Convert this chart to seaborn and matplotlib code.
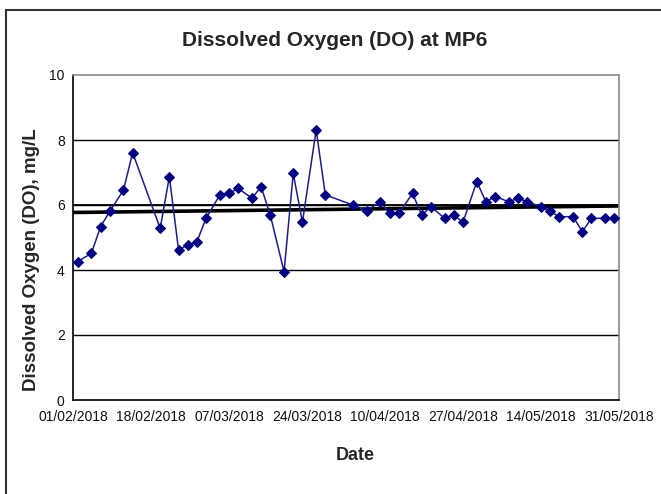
import matplotlib
matplotlib.use("Agg")
import matplotlib.pyplot as plt
import matplotlib.dates as mdates
from matplotlib.patches import Rectangle
import pandas as pd
import seaborn as sns

# Sampling dates and dissolved oxygen readings (mg/L) at MP6
dates = [
    "2018-02-02", "2018-02-05", "2018-02-07", "2018-02-09", "2018-02-12", "2018-02-14",
    "2018-02-20", "2018-02-22", "2018-02-24", "2018-02-26", "2018-02-28", "2018-03-02",
    "2018-03-05", "2018-03-07", "2018-03-09", "2018-03-12", "2018-03-14", "2018-03-16",
    "2018-03-19", "2018-03-21", "2018-03-23", "2018-03-26", "2018-03-28", "2018-04-03",
    "2018-04-06", "2018-04-09", "2018-04-11", "2018-04-13", "2018-04-16", "2018-04-18",
    "2018-04-20", "2018-04-23", "2018-04-25", "2018-04-27", "2018-04-30", "2018-05-02",
    "2018-05-04", "2018-05-07", "2018-05-09", "2018-05-11", "2018-05-14", "2018-05-16",
    "2018-05-18", "2018-05-21", "2018-05-23", "2018-05-25", "2018-05-28", "2018-05-30",
]
do_values = [
    4.26, 4.51, 5.33, 5.80, 6.46, 7.61,
    5.28, 6.87, 4.62, 4.77, 4.87, 5.59,
    6.31, 6.36, 6.51, 6.21, 6.56, 5.69,
    3.95, 6.97, 5.47, 8.31, 6.31, 6.00,
    5.83, 6.10, 5.74, 5.74, 6.36, 5.69,
    5.95, 5.59, 5.69, 5.47, 6.72, 6.10,
    6.26, 6.10, 6.21, 6.10, 5.95, 5.80,
    5.64, 5.64, 5.18, 5.59, 5.59, 5.59,
]

# Linear trend across the period
trend_dates = ["2018-02-01", "2018-05-31"]
trend_values = [5.77, 5.97]

# Guideline level
guideline = 6.0

x_start, x_end = "2018-02-01", "2018-05-31"
y_ticks = [0, 2, 4, 6, 8, 10]

df = pd.DataFrame({"Date": pd.to_datetime(dates), "DO": do_values})
trend = pd.DataFrame({"Date": pd.to_datetime(trend_dates), "DO": trend_values})

sns.set_style("white")
plt.rcParams["font.family"] = ["Liberation Sans", "DejaVu Sans"]

fig = plt.figure(figsize=(6.61, 4.94), dpi=100)
ax = fig.add_axes([73 / 661, 1 - 400 / 494, (619 - 73) / 661, (400 - 75) / 494])

# Outer chart frame
fig.patches.append(Rectangle((6 / 661, -0.1), 1.2, 1 - 10 / 494 + 0.1,
                             transform=fig.transFigure, fill=False,
                             edgecolor="#333333", linewidth=1.5, zorder=0))

# Horizontal gridlines
for v in y_ticks[1:-1]:
    ax.axhline(v, color="black", linewidth=1.0, zorder=1)
ax.axhline(guideline, color="black", linewidth=1.3, zorder=1)

sns.lineplot(data=trend, x="Date", y="DO", ax=ax, color="black",
             linewidth=2.6, zorder=2)
sns.lineplot(data=df, x="Date", y="DO", ax=ax, color="#1c1c8f",
             linewidth=1.1, marker="D", markersize=4.8,
             markeredgecolor="#000080", markerfacecolor="#000080", zorder=3)

ax.set_xlim(pd.Timestamp(x_start), pd.Timestamp(x_end))
ax.set_ylim(0, 10)
ax.set_yticks(y_ticks)
ticks = pd.date_range(x_start, x_end, freq="17D")
ax.set_xticks(ticks)
ax.xaxis.set_major_formatter(mdates.DateFormatter("%d/%m/%Y"))

ax.tick_params(axis="both", labelsize=10, direction="out", length=4,
               width=1, color="black", labelcolor="#111111", pad=2)
ax.tick_params(axis="x", pad=3)
ax.set_xlabel("")
ax.set_ylabel("")

for side in ["left", "bottom"]:
    ax.spines[side].set_color("black")
    ax.spines[side].set_linewidth(1.2)
for side in ["top", "right"]:
    ax.spines[side].set_color("#8a8a8a")
    ax.spines[side].set_linewidth(1.2)

fig.text(335 / 661, 1 - 41 / 494, "Dissolved Oxygen (DO) at MP6",
         ha="center", va="center", fontsize=15, fontweight="bold")
fig.text(355 / 661, 1 - 455 / 494, "Date", ha="center", va="center",
         fontsize=13, fontweight="bold")
fig.text(32 / 661, 1 - 260 / 494, "Dissolved Oxygen (DO), mg/L",
         ha="center", va="center", rotation=90, fontsize=13.5, fontweight="bold")

fig.savefig("out.png", dpi=100)
